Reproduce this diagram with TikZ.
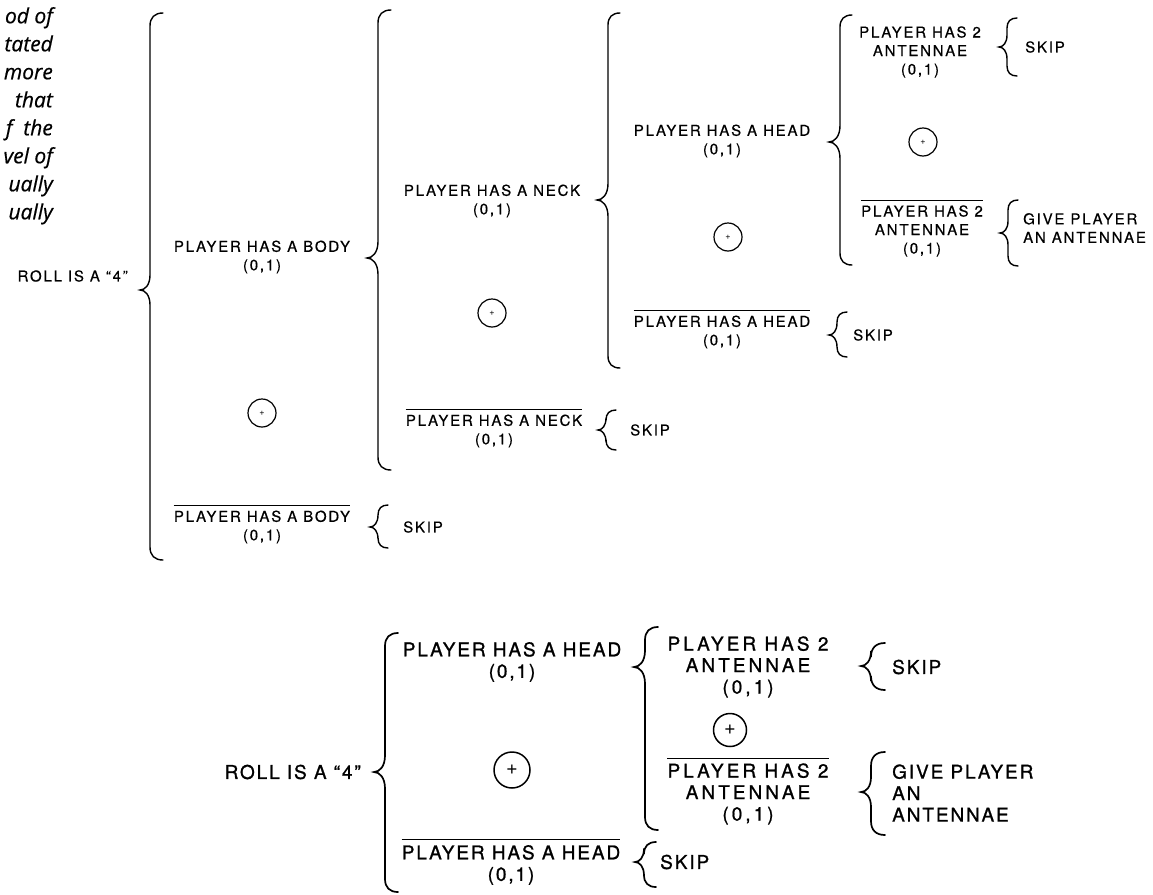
\documentclass[tikz,border=0pt]{standalone}
\usepackage{fontspec}
\setmainfont{TeX Gyre Heros}
\newfontfamily\labf[LetterSpace=12,FakeBold=0.5]{TeX Gyre Heros}
\newfontfamily\labg[LetterSpace=10,FakeBold=1]{TeX Gyre Heros}
\newfontfamily\labh[LetterSpace=16,FakeBold=1]{TeX Gyre Heros}
\newfontfamily\parf[FakeBold=0.6]{Open Sans}
\newcommand\tfnt{\labf\fontsize{15}{18.5}\selectfont}
\newcommand\bfnt{\labg\fontsize{19}{21.5}\selectfont}
\newcommand\hfnt{\labh\fontsize{19}{21.5}\selectfont}
% #1 stem x, #2 top y, #3 bottom y, #4 tip y, #5 tip depth, #6 hook size
\newcommand\Brc[6]{\draw[brc] (#1+#6,#2) .. controls (#1+0.35*#6,#2) and (#1,#2+0.35*#6) .. (#1,#2+#6) -- (#1,#4-1.5*#5) .. controls (#1,#4-0.5*#5) and (#1-0.5*#5,#4) .. (#1-#5,#4) .. controls (#1-0.5*#5,#4) and (#1,#4+0.5*#5) .. (#1,#4+1.5*#5) -- (#1,#3-#6) .. controls (#1,#3-0.35*#6) and (#1+0.35*#6,#3) .. (#1+#6,#3);}
\tikzset{
  brc/.style={line width=1.4pt, line cap=round},
  lt/.style={font=\tfnt, align=center, inner sep=0pt},
  lb/.style={font=\bfnt, align=center, inner sep=0pt},
  lh/.style={font=\hfnt, align=center, inner sep=0pt},
  ltl/.style={font=\tfnt, align=left, inner sep=0pt},
  lbl/.style={font=\bfnt, align=left, inner sep=0pt},
  circt/.style={circle, draw, line width=1.2pt, inner sep=0pt, minimum size=28pt, font=\fontsize{9}{9}\selectfont},
  circb/.style={circle, draw, line width=1.5pt, inner sep=0pt, minimum size=36pt, font=\fontsize{20}{20}\selectfont},
  bar/.style={line width=1pt},
  para/.style={font=\parf\itshape\fontsize{21}{28}\selectfont, align=right, inner sep=0pt}
}
\begin{document}
\begin{tikzpicture}[x=1pt,y=-1pt]
\useasboundingbox (0,0) rectangle (1153,894);
% paragraph fragment
\node[para, anchor=north east] (para) at (53,7) {od of\\tated\\more\\that\\f~ the\\vel of\\ually\\ually};
% ===== top diagram =====
\node[lt, anchor=east] (roll1) at (128,276) {ROLL IS A “4”};
\Brc{150}{13}{560}{290}{10}{13}
\node[lt] (body) at (262,257) {PLAYER HAS A BODY\\(0,1)};
\node[circt] (c1) at (262,413) {+};
\node[lt] (nbody) at (262,527) {PLAYER HAS A BODY\\(0,1)};
\draw[bar] ([yshift=5pt]nbody.north west) -- ([yshift=5pt]nbody.north east);
\Brc{378}{505}{548}{527}{8}{10}
\node[lt, anchor=west] (skip1) at (403,527) {SKIP};
\Brc{378}{10}{470}{258}{11}{13}
\node[lt] (neck) at (492,201) {PLAYER HAS A NECK\\(0,1)};
\node[circt] (c2) at (492,313) {+};
\node[lt] (nneck) at (494,431) {PLAYER HAS A NECK\\(0,1)};
\draw[bar] ([yshift=5pt]nneck.north west) -- ([yshift=5pt]nneck.north east);
\Brc{606}{410}{450}{430}{8}{10}
\node[lt, anchor=west] (skip2) at (630,430) {SKIP};
\Brc{608}{13}{368}{200}{11}{12}
\node[lt] (head) at (722,141) {PLAYER HAS A HEAD\\(0,1)};
\node[circt] (c3) at (728,237) {+};
\node[lt] (nhead) at (722,332) {PLAYER HAS A HEAD\\(0,1)};
\draw[bar] ([yshift=5pt]nhead.north west) -- ([yshift=5pt]nhead.north east);
\Brc{837}{312}{357}{335}{8}{10}
\node[lt, anchor=west] (skip3) at (853,335) {SKIP};
\Brc{840}{15}{265}{142}{11}{12}
\node[lt] (ant) at (920,52) {PLAYER HAS 2\\ANTENNAE\\(0,1)};
\node[circt] (c4) at (923,142) {+};
\node[lt] (nant) at (922,231) {PLAYER HAS 2\\ANTENNAE\\(0,1)};
\draw[bar] ([yshift=5pt]nant.north west) -- ([yshift=5pt]nant.north east);
\Brc{1007}{18}{76}{47}{8}{10}
\node[lt, anchor=west] (skip4) at (1025,47) {SKIP};
\Brc{1008}{200}{266}{233}{8}{10}
\node[ltl, anchor=west] (give1) at (1023,228) {GIVE PLAYER\\AN ANTENNAE};
% ===== bottom diagram =====
\begin{scope}[brc/.append style={line width=1.7pt}]
\node[lb, anchor=east] (roll2) at (361,772) {ROLL IS A “4”};
\Brc{385}{633}{892}{772}{11}{13}
\node[lb] (head2) at (512,662) {PLAYER HAS A HEAD\\(0,1)};
\node[circb] (c5) at (512,770) {+};
\node[lb] (nhead2) at (511,865) {PLAYER HAS A HEAD\\(0,1)};
\draw[bar] ([yshift=5pt]nhead2.north west) -- ([yshift=5pt]nhead2.north east);
\Brc{644}{842}{887}{862}{9}{12}
\node[lb, anchor=west] (skip5) at (660,862) {SKIP};
\Brc{645}{627}{830}{667}{11}{13}
\node[lh] (ant2) at (748,667) {PLAYER HAS 2\\ANTENNAE\\(0,1)};
\node[circb, minimum size=33pt] (c6) at (730,730) {+};
\node[lh] (nant2) at (748,794) {PLAYER HAS 2\\ANTENNAE\\(0,1)};
\draw[bar] ([yshift=5pt]nant2.north west) -- ([yshift=5pt]nant2.north east);
\Brc{871}{643}{690}{666}{10}{14}
\node[lb, anchor=west] (skip6) at (892,667) {SKIP};
\Brc{871}{752}{835}{792}{10}{14}
\node[lbl, anchor=west] (give2) at (892,793) {GIVE PLAYER\\AN\\ANTENNAE};
\end{scope}
\end{tikzpicture}
\end{document}
